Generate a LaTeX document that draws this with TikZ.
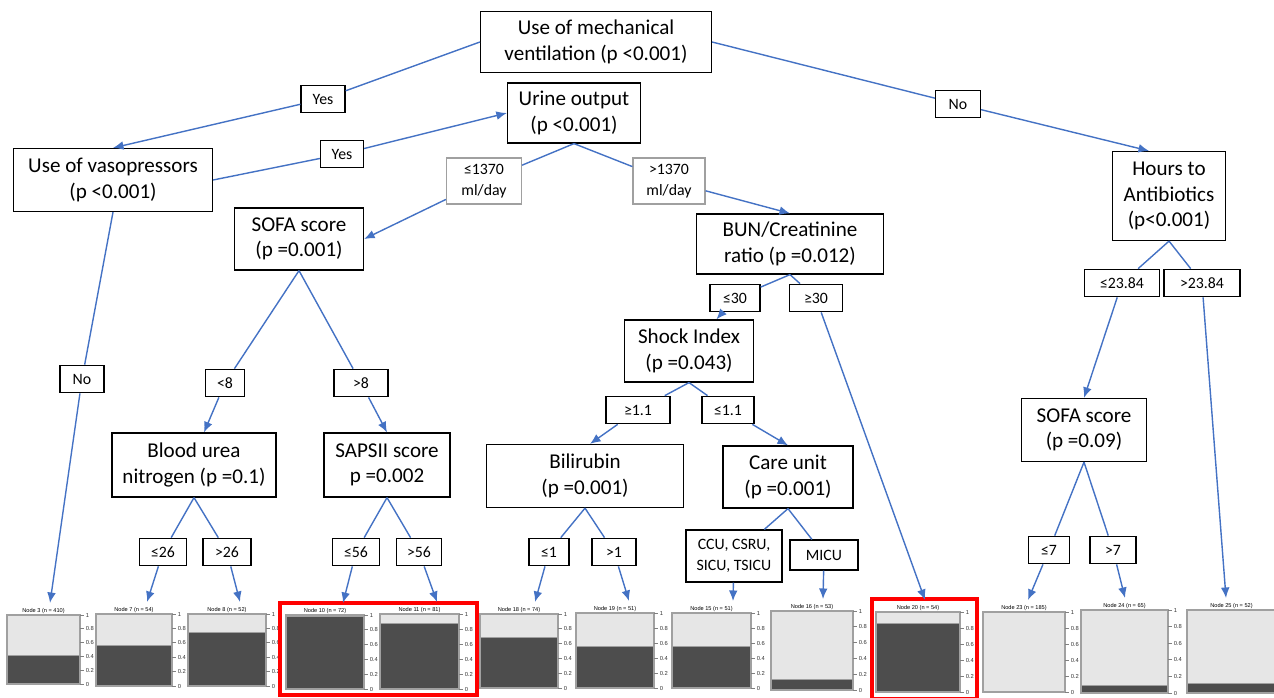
\documentclass[tikz,border=0pt]{standalone}
\usepackage{fontspec}
\setmainfont{Carlito}
\newfontfamily\plotfont{Liberation Sans}
\usetikzlibrary{arrows.meta}

\definecolor{edgeblue}{HTML}{4472C4}
\definecolor{barlight}{HTML}{E6E6E6}
\definecolor{bardark}{HTML}{4D4D4D}
\definecolor{framegray}{HTML}{A0A0A0}

% leaf box: name, left, right, top, bottom, share, title, arrow x
\newcommand{\leafbox}[8]{%
  \pgfmathsetmacro\darktop{#5-#6*(#5-#4)}
  \fill[barlight] (#2,#4) rectangle (#3,#5);
  \fill[bardark] (#2,#5) rectangle (#3,\darktop);
  \draw[framegray,line width=0.5pt] (#2,\darktop) -- (#3,\darktop);
  \draw[framegray,line width=0.8pt] (#2,#4) rectangle (#3,#5);
  \node[above,inner sep=0.6pt,font=\plotfont\fontsize{3.2}{4}\selectfont] at ({(#2+#3)/2},#4) {#7};
  \coordinate (#1) at (#8,#4-12);
}
% leaf box with its axis on the right
\newcommand{\leafplot}[8]{%
  \leafbox{#1}{#2}{#3}{#4}{#5}{#6}{#7}{#8}
  \foreach \t in {0,0.2,0.4,0.6,0.8,1}{
    \pgfmathsetmacro\ty{#5-\t*(#5-#4)}
    \draw[gray,line width=0.4pt] (#3,\ty) -- (#3+4,\ty)
      node[right,inner sep=0.8pt,text=black!80,font=\plotfont\fontsize{3.3}{4}\selectfont]{\t};
  }
}

\begin{document}
\begin{tikzpicture}[x=0.02cm,y=-0.02cm,>={Latex[length=6pt,width=5pt]},
    split/.style={draw,line width=0.7pt,fill=white,align=center,inner sep=2pt,
                  font=\fontsize{12}{14.5}\selectfont},
    cond/.style={draw,line width=0.7pt,fill=white,align=center,inner sep=2pt,
                 minimum height=0.55cm,font=\fontsize{9}{12}\selectfont},
    flow/.style={edgeblue,line width=0.8pt}]
  \useasboundingbox (0,0) rectangle (1274,697);

  \node[split,minimum width=4.62cm,minimum height=1.22cm] (root) at (596,42) {Use of mechanical\\ventilation (p <0.001)};
  \node[split,minimum width=3.98cm,minimum height=1.26cm] (vaso) at (113,180) {Use of vasopressors\\(p <0.001)};
  \node[split,minimum width=2.66cm,minimum height=1.2cm] (urine) at (574,113) {Urine output\\(p <0.001)};
  \node[split,minimum width=2.26cm,minimum height=1.78cm] (hours) at (1169,196) {Hours to\\Antibiotics\\(p<0.001)};
  \node[split,minimum width=2.58cm,minimum height=1.24cm] (sofa1) at (299,239) {SOFA score\\(p =0.001)};
  \node[split,minimum width=3.74cm,minimum height=1.2cm] (bun) at (790,244) {BUN/Creatinine\\ratio (p =0.012)};
  \node[split,minimum width=2.58cm,minimum height=1.24cm] (shock) at (689,351) {Shock Index\\(p =0.043)};
  \node[split,minimum width=3.28cm,minimum height=1.28cm] (blood) at (194,465) {Blood urea\\nitrogen (p =0.1)};
  \node[split,minimum width=2.52cm,minimum height=1.28cm] (sapsii) at (387,465) {SAPSII score\\p =0.002};
  \node[split,minimum width=3.94cm,minimum height=1.26cm] (bili) at (585,476) {Bilirubin\\(p =0.001)};
  \node[split,minimum width=2.6cm,minimum height=1.24cm] (care) at (788,477) {Care unit\\(p =0.001)};
  \node[split,minimum width=2.5cm,minimum height=1.26cm] (sofa2) at (1084,430) {SOFA score\\(p =0.09)};

  \node[cond,minimum width=0.88cm] (yes1) at (323,99) {Yes};
  \node[cond,minimum width=0.86cm] (yes2) at (342,154) {Yes};
  \node[cond,minimum width=0.9cm] (no1) at (958,104) {No};
  \node[cond,minimum width=0.88cm] (no2) at (82,379) {No};
  \node[cond,draw=framegray,minimum width=1.5cm,minimum height=0.92cm] (ml1) at (484,181) {≤1370\\ml/day};
  \node[cond,draw=framegray,minimum width=1.44cm,minimum height=0.92cm] (ml2) at (669,181) {>1370\\ml/day};
  \node[cond,minimum width=0.78cm] (lt8) at (225,383) {<8};
  \node[cond,minimum width=1.08cm] (gt8) at (361,383) {>8};
  \node[cond,minimum width=1.0cm] (le30) at (735,298) {≤30};
  \node[cond,minimum width=1.06cm] (ge30) at (816,298) {≥30};
  \node[cond,minimum width=1.28cm] (ge11) at (638,410) {≥1.1};
  \node[cond,minimum width=1.04cm] (le11) at (728,410) {≤1.1};
  \node[cond,minimum width=1.5cm] (le2384) at (1122,283) {≤23.84};
  \node[cond,minimum width=1.52cm] (gt2384) at (1202,283) {>23.84};
  \node[cond,minimum width=0.94cm] (le26) at (163,552) {≤26};
  \node[cond,minimum width=0.96cm] (gt26) at (227,552) {>26};
  \node[cond,minimum width=0.94cm] (le56) at (356,552) {≤56};
  \node[cond,minimum width=0.9cm] (gt56) at (419,552) {>56};
  \node[cond,minimum width=0.8cm] (le1) at (549,552) {≤1};
  \node[cond,minimum width=0.88cm] (gt1) at (614,552) {>1};
  \node[cond,minimum width=1.92cm,minimum height=1.04cm] (icu1) at (734,556) {CCU, CSRU,\\SICU, TSICU};
  \node[cond,minimum width=1.36cm,minimum height=0.6cm] (micu) at (824,555) {MICU};
  \node[cond,minimum width=0.82cm] (le7) at (1049,550) {≤7};
  \node[cond,minimum width=0.92cm] (gt7) at (1113,550) {>7};

  \leafplot{n3}{7}{80}{615}{684}{0.41}{Node 3 (n = 410)}{50}
  \leafplot{n7}{96}{172}{614}{686}{0.56}{Node 7 (n = 54)}{147}
  \leafplot{n8}{188}{266}{614}{686}{0.74}{Node 8 (n = 52)}{240}
  \leafplot{n10}{286}{364}{615}{689}{0.98}{Node 10 (n = 72)}{343}
  \leafplot{n11}{380}{459}{614}{689}{0.87}{Node 11 (n = 81)}{437}
  \leafplot{n18}{480}{558}{614}{688}{0.69}{Node 18 (n = 74)}{535}
  \leafplot{n19}{576}{654}{613}{688}{0.56}{Node 19 (n = 51)}{629}
  \leafplot{n15}{672}{751}{613}{688}{0.55}{Node 15 (n = 51)}{733}
  \leafplot{n16}{771}{853}{611}{690}{0.13}{Node 16 (n = 53)}{823}
  \leafplot{n20}{876}{960}{612}{692}{0.86}{Node 20 (n = 54)}{925}
  \leafplot{n23}{983}{1065}{612}{692}{0}{Node 23 (n = 185)}{1028}
  \leafplot{n24}{1081}{1168}{610}{693}{0.09}{Node 24 (n = 65)}{1125}
  \leafbox{n25}{1187}{1276}{610}{693}{0.12}{Node 25 (n = 52)}{1226}

  \draw[red,line width=2.4pt] (280,603) rectangle (477,695);
  \draw[red,line width=2.4pt] (872,599) rectangle (977,699);

  \path[flow]
    (root.west) edge (yes1)
    (yes1) edge[->] (vaso.north)
    (vaso.east) edge (yes2)
    (yes2) edge[->] (urine.west)
    (root.east) edge (no1)
    (no1) edge[->] ([xshift=-0.4cm]hours.north)
    (vaso.south) edge (no2)
    (no2) edge[->] (n3)
    (urine.south) edge (ml1)
    (ml1) edge[->] (sofa1.east)
    (urine.south) edge (ml2)
    (ml2) edge[->] (bun.north)
    (sofa1.south) edge (lt8)
    (lt8) edge[->] ([xshift=0.2cm]blood.north)
    (sofa1.south) edge (gt8)
    (gt8) edge[->] (sapsii.north)
    (bun.south) edge (le30)
    (le30) edge[->] (shock)
    (bun.south) edge (ge30)
    (ge30) edge[->] (n20)
    (shock.south) edge (ge11)
    (ge11) edge[->] ([xshift=0.1cm]bili.north)
    (shock.south) edge (le11)
    (le11) edge[->] (care.north)
    (blood.south) edge (le26)
    (le26) edge[->] (n7)
    (blood.south) edge (gt26)
    (gt26) edge[->] (n8)
    (sapsii.south) edge (le56)
    (le56) edge[->] (n10)
    (sapsii.south) edge (gt56)
    (gt56) edge[->] (n11)
    (bili.south) edge (le1)
    (le1) edge[->] (n18)
    (bili.south) edge (gt1)
    (gt1) edge[->] (n19)
    (care.south) edge (icu1)
    (icu1) edge[->] (n15)
    (care.south) edge (micu)
    (micu) edge[->] (n16)
    (hours.south) edge (le2384)
    (le2384) edge[->] (sofa2.north)
    (hours.south) edge (gt2384)
    (gt2384) edge[->] (n25)
    (sofa2.south) edge (le7)
    (le7) edge[->] (n23)
    (sofa2.south) edge (gt7)
    (gt7) edge[->] (n24);
\end{tikzpicture}
\end{document}
